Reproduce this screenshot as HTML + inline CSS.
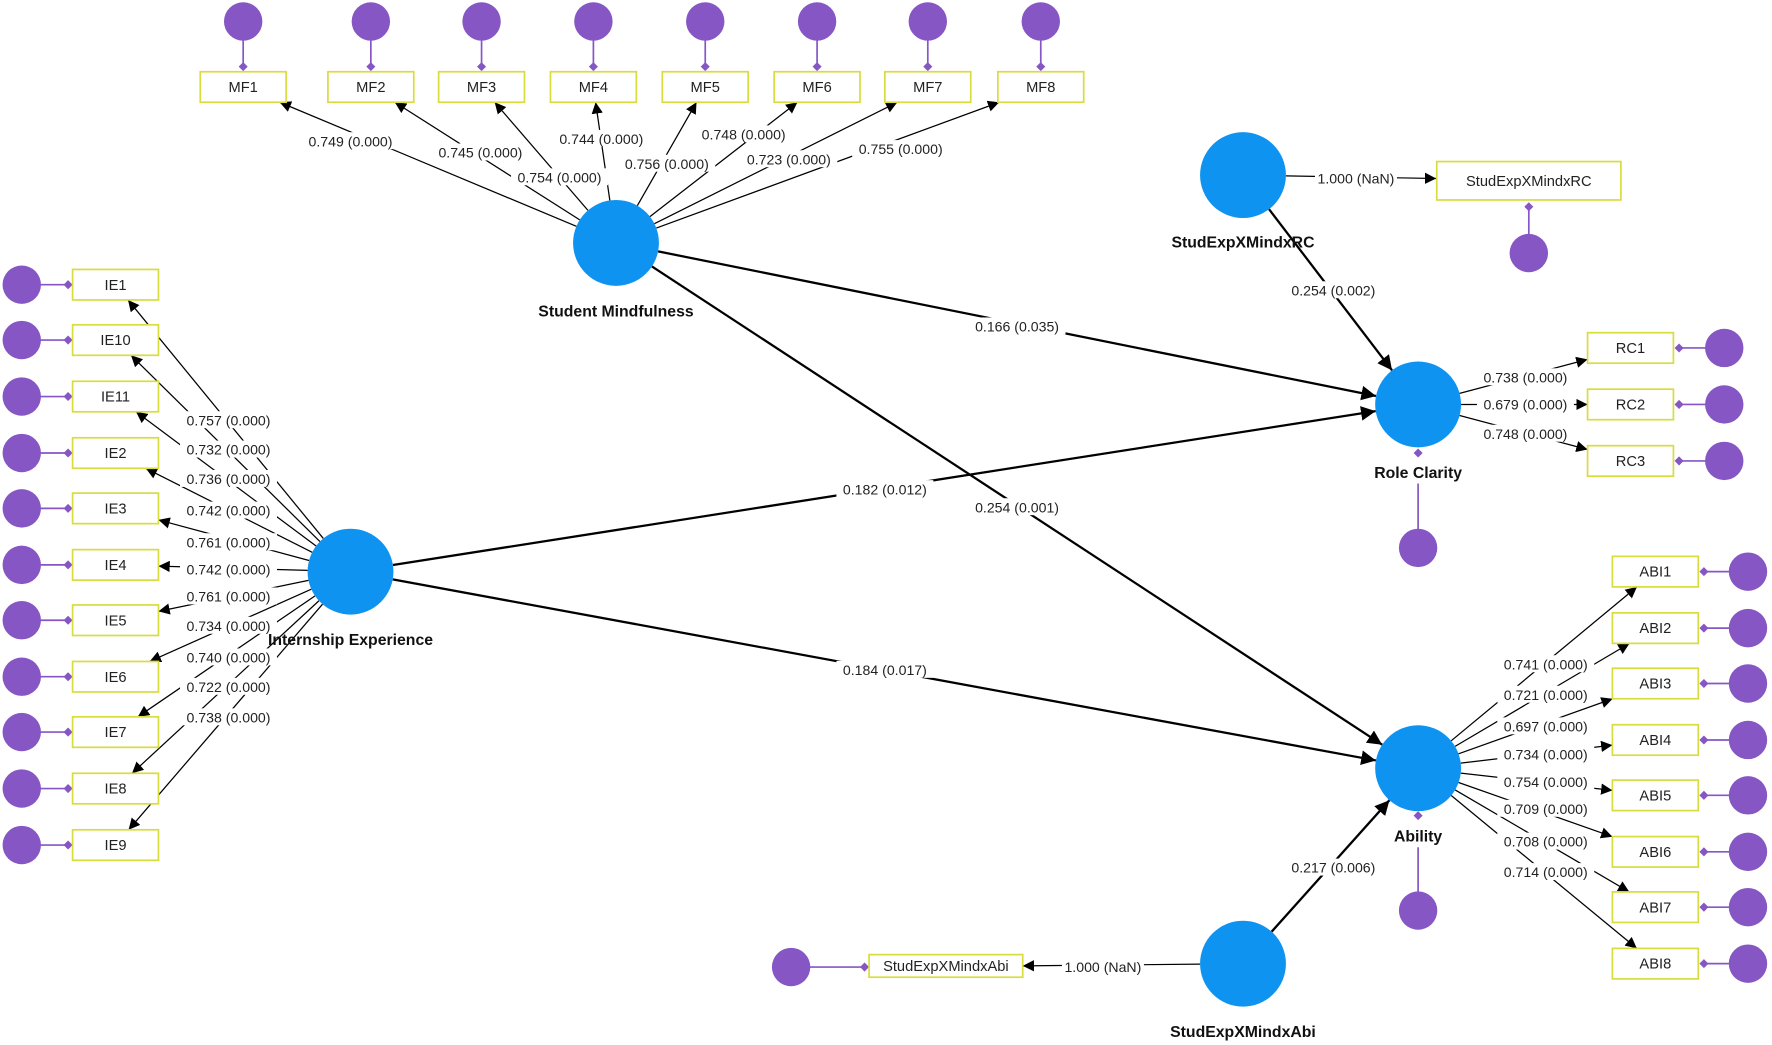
<!DOCTYPE html>
<html><head><meta charset="utf-8"><style>
html,body{margin:0;padding:0;background:#fff;}
svg{display:block;}
text{font-family:"Liberation Sans",sans-serif;}
</style></head><body>
<svg id="s" width="1772" height="1045" viewBox="0 0 1568 925" xmlns="http://www.w3.org/2000/svg">
<defs>
<marker id="ah" viewBox="0 0 10 10" refX="10" refY="5" markerWidth="10" markerHeight="10" markerUnits="userSpaceOnUse" orient="auto"><path d="M0,0 L10,5 L0,10 z" fill="#000"/></marker>
<marker id="ahb" viewBox="0 0 10 10" refX="10" refY="5" markerWidth="13" markerHeight="13" markerUnits="userSpaceOnUse" orient="auto"><path d="M0,0 L10,5 L0,10 z" fill="#000"/></marker>
</defs>
<g id="g"></g>
</svg>
<script>
var g=document.getElementById('g'),NS='http://www.w3.org/2000/svg';
function el(t,a,txt){var e=document.createElementNS(NS,t);for(var k in a)e.setAttribute(k,a[k]);if(txt!=null)e.textContent=txt;g.appendChild(e);return e;}
var PUR='#8556c4',BLU='#0f93f0',YEL='#d8dc3c';
var R=38;
var lat={SM:[545,215],IE:[310,506],RC:[1255,358],AB:[1255,680],MRC:[1100,155],MAB:[1100,853]};
var boxes=[];
function box(name,cx,cy,w,h){boxes.push([name,cx,cy,w,h]);return {cx:cx,cy:cy,w:w,h:h};}
function hit(p,b){var dx=b.cx-p[0],dy=b.cy-p[1];var tx=Math.abs(dx)>0?(Math.abs(dx)-b.w/2)/Math.abs(dx):1e9;var ty=Math.abs(dy)>0?(Math.abs(dy)-b.h/2)/Math.abs(dy):1e9;var t=Math.max(tx<1?tx:0,ty<1?ty:0);return [p[0]+dx*t,p[1]+dy*t];}
var lines=[],labels=[];
function arrow(p,q,wid,lab,lp){var dx=q[0]-p[0],dy=q[1]-p[1],d=Math.hypot(dx,dy);var s=[p[0]+dx/d*R,p[1]+dy/d*R];lines.push([s,q,wid]);if(lab)labels.push([lab,lp[0],lp[1]]);}
function load(L,b,lab,lp){arrow(lat[L],hit(lat[L],b),1,lab,lp);}
var mfx=[215,328,426,525,624,723,821,921],mfl=['0.749','0.745','0.754','0.744','0.756','0.748','0.723','0.755'],mfp=[[310,125],[425,135],[495,157],[532,123],[590,145],[658,119],[698,141],[797,132]];
var ind=[];
mfx.forEach(function(x,i){var b=box('MF'+(i+1),x,77,76,27);ind.push(['v',x,19,x,59]);load('SM',b,mfl[i]+' (0.000)',mfp[i]);});
var ien=['IE1','IE10','IE11','IE2','IE3','IE4','IE5','IE6','IE7','IE8','IE9'],iey=[252,301,351,401,450,500,549,599,648,698,748],iel=['0.757','0.732','0.736','0.742','0.761','0.742','0.761','0.734','0.740','0.722','0.738'],ieyl=[372,398,424,452,480,504,528,554,582,608,635];
ien.forEach(function(n,i){var b=box(n,102,iey[i],76,27);ind.push(['h',19,iey[i],60,iey[i]]);load('IE',b,iel[i]+' (0.000)',[202,ieyl[i]]);});
[308,358,408].forEach(function(y,i){var b=box('RC'+(i+1),1443,y,76,27);ind.push(['h',1526,y,1486,y]);load('RC',b,['0.738','0.679','0.748'][i]+' (0.000)',[1350,[334,358,384][i]]);});
var aby=[506,556,605,655,704,754,803,853],abl=['0.741','0.721','0.697','0.734','0.754','0.709','0.708','0.714'],abyl=[588,615,643,668,692,716,745,772];
aby.forEach(function(y,i){var b=box('ABI'+(i+1),1465,y,76,27);ind.push(['h',1547,y,1508,y]);load('AB',b,abl[i]+' (0.000)',[1368,abyl[i]]);});
box('StudExpXMindxRC',1353,160,163,34);ind.push(['v',1353,224,1353,183]);
box('StudExpXMindxAbi',837,855,136,20);ind.push(['h',700,856,765,856]);
arrow(lat.MRC,[1271,158],1,'1.000 (NaN)',[1200,158]);
arrow(lat.MAB,[905,855],1,'1.000 (NaN)',[976,856]);
function st(a,b,lab,lp){var p=lat[a],q=lat[b];var dx=q[0]-p[0],dy=q[1]-p[1],d=Math.hypot(dx,dy);arrow(p,[q[0]-dx/d*R,q[1]-dy/d*R],2,lab,lp);}
st('SM','RC','0.166 (0.035)',[900,289]);
st('IE','RC','0.182 (0.012)',[783,433]);
st('SM','AB','0.254 (0.001)',[900,449]);
st('IE','AB','0.184 (0.017)',[783,593]);
st('MRC','RC','0.254 (0.002)',[1180,257]);
st('MAB','AB','0.217 (0.006)',[1180,768]);
lines.forEach(function(l){el('line',{x1:l[0][0],y1:l[0][1],x2:l[1][0],y2:l[1][1],stroke:'#000','stroke-width':l[2]===2?2:1.1,'marker-end':l[2]===2?'url(#ahb)':'url(#ah)'});});
function diamond(x,y){el('path',{d:'M'+(x-4)+','+y+' L'+x+','+(y-4)+' L'+(x+4)+','+y+' L'+x+','+(y+4)+'z',fill:PUR});}
ind.forEach(function(d){el('line',{x1:d[1],y1:d[2],x2:d[3],y2:d[4],stroke:PUR,'stroke-width':1.5});el('circle',{cx:d[1],cy:d[2],r:17,fill:PUR});diamond(d[3],d[4]);});
// endogenous error terms
el('line',{x1:1255,y1:428,x2:1255,y2:485,stroke:PUR,'stroke-width':1.5});el('circle',{cx:1255,cy:485,r:17,fill:PUR});diamond(1255,401);
el('line',{x1:1255,y1:750,x2:1255,y2:806,stroke:PUR,'stroke-width':1.5});el('circle',{cx:1255,cy:806,r:17,fill:PUR});diamond(1255,722);
boxes.forEach(function(b){el('rect',{x:b[1]-b[3]/2,y:b[2]-b[4]/2,width:b[3],height:b[4],fill:'#fff',stroke:YEL,'stroke-width':1.5});el('text',{x:b[1],y:b[2]+4.5,'text-anchor':'middle','font-size':13,fill:'#222'},b[0]);});
var ln={SM:['Student Mindfulness',280],IE:['Internship Experience',571],RC:['Role Clarity',423],AB:['Ability',745],MRC:['StudExpXMindxRC',219],MAB:['StudExpXMindxAbi',918]};
for(var k in lat){el('circle',{cx:lat[k][0],cy:lat[k][1],r:R,fill:BLU});}
labels.forEach(function(l){var w=l[0].length*6.6;el('rect',{x:l[1]-w/2,y:l[2]-8,width:w,height:15,fill:'#fff'});el('text',{x:l[1],y:l[2]+4.5,'text-anchor':'middle','font-size':12.5,fill:'#222'},l[0]);});
for(var k in ln){el('text',{x:lat[k][0],y:ln[k][1],'text-anchor':'middle','font-size':14,'font-weight':'bold',fill:'#111'},ln[k][0]);}
</script>
</body></html>
